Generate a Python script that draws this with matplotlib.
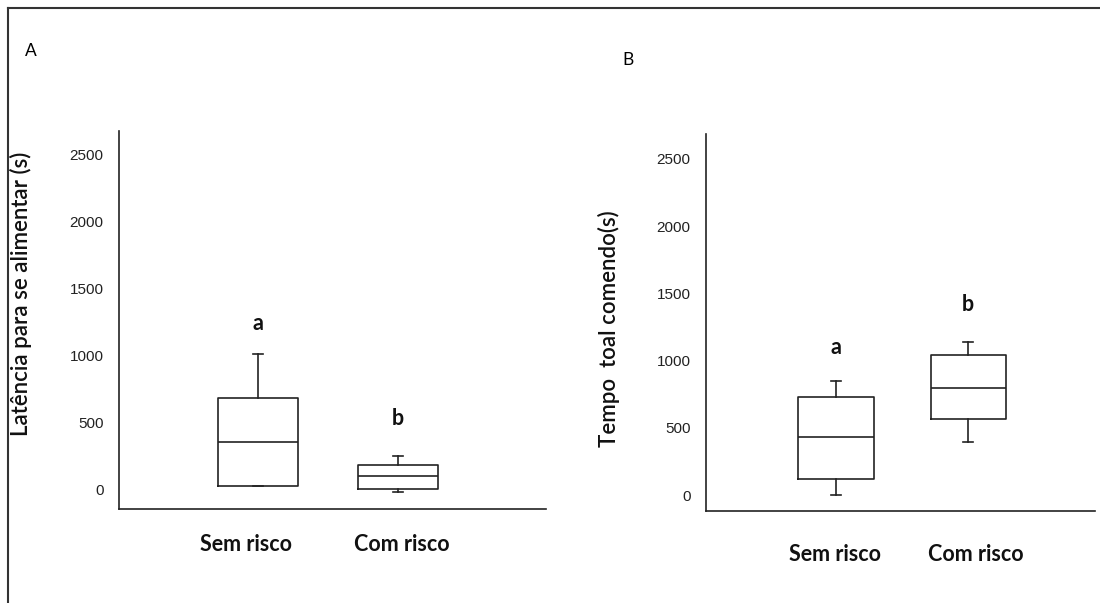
import matplotlib
matplotlib.use("Agg")
import matplotlib.pyplot as plt
from matplotlib.lines import Line2D

# panel A: latency to feed (s)
groups = ["Sem risco", "Com risco"]
lat_whislo = [30, -17]
lat_q1 = [30, 10]
lat_med = [358, 104]
lat_q3 = [686, 189]
lat_whishi = [1015, 256]
lat_letters = ["a", "b"]
lat_letter_y = [1246, 537]

# panel B: total time eating (s)
tempo_whislo = [2, 394]
tempo_q1 = [121, 563]
tempo_med = [431, 796]
tempo_q3 = [731, 1039]
tempo_whishi = [850, 1141]
tempo_letters = ["a", "b"]
tempo_letter_y = [1096, 1414]

yticks = [0, 500, 1000, 1500, 2000, 2500]

label_font = ["Lato", "DejaVu Sans"]
num_font = ["Liberation Sans", "DejaVu Sans"]

W, H = 1100, 603
fig = plt.figure(figsize=(W / 100, H / 100), dpi=100)


def px_axes(l, t, r, b):
    return fig.add_axes([l / W, 1 - b / H, (r - l) / W, (b - t) / H])


def draw_panel(ax, wlo, q1, med, q3, whi, letters, ly, ylim, xlim, ylabel,
               label_x, xpad):
    stats = []
    for i in range(len(groups)):
        stats.append(dict(whislo=wlo[i], q1=q1[i], med=med[i], q3=q3[i],
                          whishi=whi[i], fliers=[]))
    ax.bxp(stats, positions=[1, 2], widths=0.57, capwidths=0.075,
           showfliers=False, patch_artist=False,
           boxprops=dict(color="#222222", lw=1.2),
           medianprops=dict(color="#222222", lw=1.2),
           whiskerprops=dict(color="#222222", lw=1.2),
           capprops=dict(color="#222222", lw=1.2))
    for i, t in enumerate(letters):
        ax.text(i + 1, ly[i], t, ha="center", va="center", fontsize=15.5,
                fontweight="bold", family=label_font, color="#111111")
    ax.set_ylim(*ylim)
    ax.set_xlim(*xlim)
    ax.set_yticks(yticks)
    ax.set_yticklabels([str(v) for v in yticks], family=num_font,
                       fontsize=11, color="#222222")
    ax.set_xticks(label_x)
    ax.set_xticklabels(groups, family=label_font, fontsize=15.5,
                       fontweight="bold", color="#111111")
    ax.tick_params(axis="y", length=0, pad=11)
    ax.tick_params(axis="x", length=0, pad=xpad)
    for s in ["top", "right"]:
        ax.spines[s].set_visible(False)
    for s in ["left", "bottom"]:
        ax.spines[s].set_linewidth(1.2)
        ax.spines[s].set_color("#222222")
    ax.set_ylabel(ylabel, family=label_font, fontsize=16,
                  fontweight="semibold", color="#111111")


axA = px_axes(119, 131, 546, 509)
draw_panel(axA, lat_whislo, lat_q1, lat_med, lat_q3, lat_whishi,
           lat_letters, lat_letter_y, (-142, 2679), (0.007, 3.057),
           "Latência para se alimentar (s)", [0.911, 2.028], 18)
axA.yaxis.set_label_coords((32 - 119) / (546 - 119), (509 - 294) / (509 - 131))

axB = px_axes(706, 134, 1095, 511)
draw_panel(axB, tempo_whislo, tempo_q1, tempo_med, tempo_q3, tempo_whishi,
           tempo_letters, tempo_letter_y, (-119, 2686), (0.015, 2.96),
           "Tempo  toal comendo(s)", [0.992, 2.06], 24)
axB.yaxis.set_label_coords((620 - 706) / (1095 - 706), (511 - 329) / (511 - 134))

fig.text(31 / W, 1 - 51 / H, "A", ha="center", va="center", fontsize=12.5,
         family=label_font)
fig.text(628 / W, 1 - 60 / H, "B", ha="center", va="center", fontsize=12.5,
         family=label_font)

# outer frame (top and left edges only)
fig.add_artist(Line2D([8 / W, 8 / W], [0, 1 - 8 / H], transform=fig.transFigure,
                      color="#333333", lw=1.5))
fig.add_artist(Line2D([8 / W, 1], [1 - 8 / H, 1 - 8 / H], transform=fig.transFigure,
                      color="#333333", lw=1.5))

fig.savefig("out.png", dpi=100)
